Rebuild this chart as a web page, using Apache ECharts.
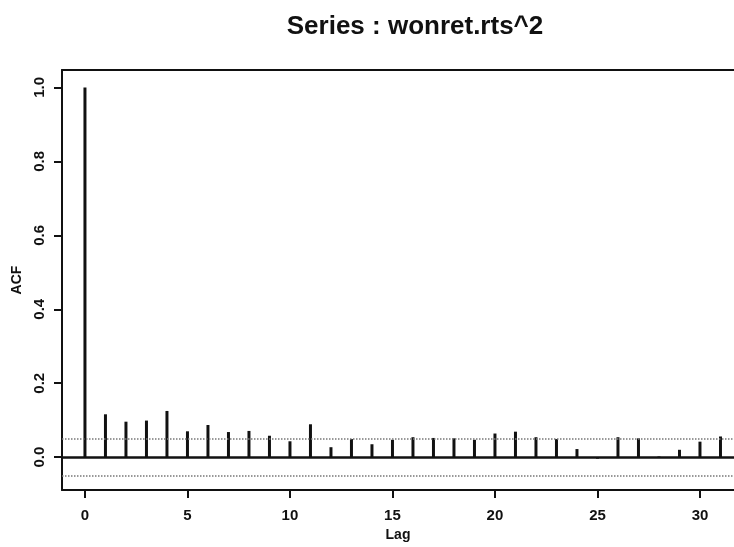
<!DOCTYPE html>
<html>
<head>
<meta charset="utf-8">
<script src="https://cdn.jsdelivr.net/npm/echarts@6/dist/echarts.min.js"></script>
<style>
  html, body { margin: 0; padding: 0; background: #fff; }
  #chart { width: 734px; height: 547px; }
</style>
</head>
<body>
<div id="chart"></div>
<script>
// Autocorrelation of squared returns, lags 0..31
const lags = [0, 1, 2, 3, 4, 5, 6, 7, 8, 9, 10, 11, 12, 13, 14, 15,
              16, 17, 18, 19, 20, 21, 22, 23, 24, 25, 26, 27, 28, 29, 30, 31];
const acfValues = [1.0, 0.116, 0.096, 0.099, 0.125, 0.070, 0.087, 0.068,
                   0.071, 0.058, 0.043, 0.089, 0.027, 0.049, 0.035, 0.047,
                   0.054, 0.052, 0.051, 0.047, 0.064, 0.069, 0.054, 0.049,
                   0.022, -0.004, 0.054, 0.051, 0.002, 0.020, 0.042, 0.056];
// approximate 95% white-noise band
const confBound = 0.047;
const xTicks = [0, 5, 10, 15, 20, 25, 30];
const yTicks = [0, 0.2, 0.4, 0.6, 0.8, 1.0];

const FONT = '"Liberation Sans", Arial, sans-serif';
const chart = echarts.init(document.getElementById('chart'), null, { renderer: 'canvas' });

const stems = lags.map((l, i) => [l, acfValues[i]]);

chart.setOption({
  animation: false,
  backgroundColor: '#ffffff',
  title: {
    text: 'Series : wonret.rts^2',
    left: 410,
    textAlign: 'center',
    top: 9,
    textStyle: { fontFamily: FONT, fontSize: 26, fontWeight: 'bold', color: '#111' }
  },
  grid: { left: 62, top: 70, right: 0, bottom: 53, containLabel: false },
  xAxis: [
    {
      type: 'value',
      position: 'bottom',
      min: -1.12,
      max: 31.66,
      name: 'Lag',
      nameLocation: 'middle',
      nameGap: 37,
      nameTextStyle: { fontFamily: FONT, fontSize: 14, fontWeight: 'bold', color: '#111' },
      axisLine: { show: true, onZero: false, lineStyle: { color: '#111', width: 2 } },
      axisTick: { show: true, length: 8, customValues: xTicks, lineStyle: { color: '#111', width: 2 } },
      axisLabel: {
        customValues: xTicks,
        margin: 18,
        fontFamily: FONT, fontSize: 15, fontWeight: 'bold', color: '#111'
      },
      splitLine: { show: false }
    },
    {
      // top frame edge
      type: 'value',
      position: 'top',
      min: -1.12,
      max: 31.66,
      axisLine: { show: true, onZero: false, lineStyle: { color: '#111', width: 2 } },
      axisTick: { show: false },
      axisLabel: { show: false },
      splitLine: { show: false }
    }
  ],
  yAxis: {
    type: 'value',
    min: -0.089,
    max: 1.047,
    name: 'ACF',
    nameLocation: 'middle',
    nameRotate: 90,
    nameGap: 38,
    nameTextStyle: { fontFamily: FONT, fontSize: 14, fontWeight: 'bold', color: '#111' },
    axisLine: { show: true, onZero: false, lineStyle: { color: '#111', width: 2 } },
    axisTick: { show: true, length: 8, customValues: yTicks, lineStyle: { color: '#111', width: 2 } },
    axisLabel: {
      customValues: yTicks,
      rotate: 90,
      margin: 15,
      formatter: v => v.toFixed(1),
      fontFamily: FONT, fontSize: 15, fontWeight: 'bold', color: '#111'
    },
    splitLine: { show: false }
  },
  series: [
    {
      type: 'bar',
      xAxisIndex: 0,
      data: stems,
      barWidth: 3,
      itemStyle: { color: '#111' },
      markLine: {
        silent: true,
        symbol: ['none', 'none'],
        label: { show: false },
        data: [
          { yAxis: 0, lineStyle: { color: '#111', width: 2.5, type: 'solid' } },
          { yAxis: confBound, lineStyle: { color: '#777', width: 1.5, type: 'dotted' } },
          { yAxis: -confBound, lineStyle: { color: '#777', width: 1.5, type: 'dotted' } }
        ]
      }
    }
  ]
});
</script>
</body>
</html>
